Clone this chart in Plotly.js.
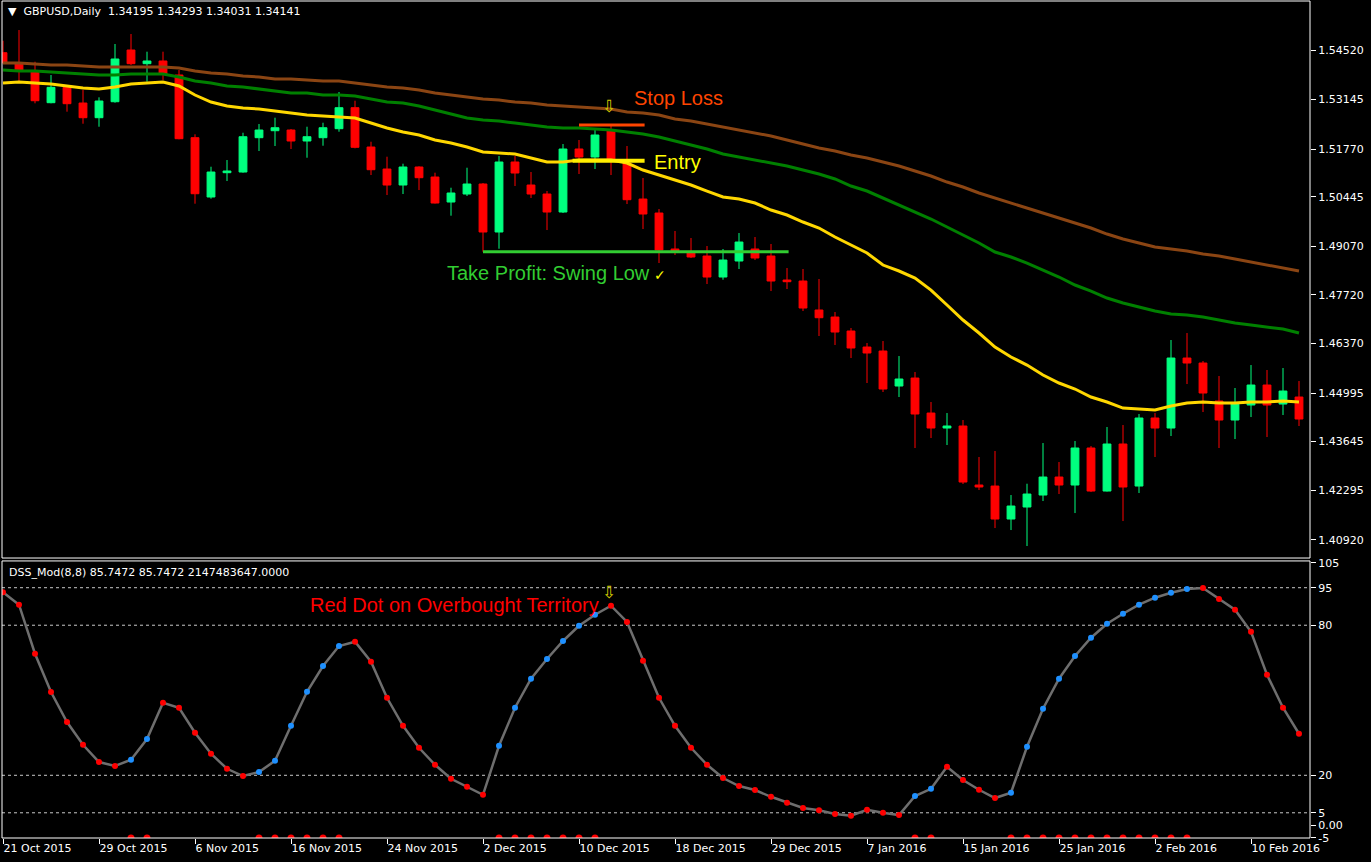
<!DOCTYPE html>
<html>
<head>
<meta charset="utf-8">
<script src="https://cdn.plot.ly/plotly-3.0.1.min.js"></script>
<style>
html,body{margin:0;padding:0;background:#000;}
#chart{width:1371px;height:862px;}
</style>
</head>
<body>
<div id="chart"></div>
<script>
// ---------- DATA ----------
const dates = [
 "2015-10-21","2015-10-22","2015-10-23","2015-10-26","2015-10-27","2015-10-28","2015-10-29","2015-10-30",
 "2015-11-02","2015-11-03","2015-11-04","2015-11-05","2015-11-06","2015-11-09","2015-11-10","2015-11-11",
 "2015-11-12","2015-11-13","2015-11-16","2015-11-17","2015-11-18","2015-11-19","2015-11-20","2015-11-23",
 "2015-11-24","2015-11-25","2015-11-26","2015-11-27","2015-11-30","2015-12-01","2015-12-02","2015-12-03",
 "2015-12-04","2015-12-07","2015-12-08","2015-12-09","2015-12-10","2015-12-11","2015-12-14","2015-12-15",
 "2015-12-16","2015-12-17","2015-12-18","2015-12-21","2015-12-22","2015-12-23","2015-12-24","2015-12-28",
 "2015-12-29","2015-12-30","2015-12-31","2016-01-04","2016-01-05","2016-01-06","2016-01-07","2016-01-08",
 "2016-01-11","2016-01-12","2016-01-13","2016-01-14","2016-01-15","2016-01-18","2016-01-19","2016-01-20",
 "2016-01-21","2016-01-22","2016-01-25","2016-01-26","2016-01-27","2016-01-28","2016-01-29","2016-02-01",
 "2016-02-02","2016-02-03","2016-02-04","2016-02-05","2016-02-08","2016-02-09","2016-02-10","2016-02-11",
 "2016-02-12","2016-02-15"];

const openP = [1.54445,1.54167,1.53917,1.53057,1.53484,1.53048,1.52640,1.53084,1.54520,1.54140,
 1.54215,1.53826,1.52085,1.50438,1.51113,1.51132,1.52085,1.52279,1.52298,1.51993,
 1.52085,1.52335,1.52918,1.51826,1.51215,1.50771,1.51271,1.50993,1.50299,1.50521,
 1.50799,1.49466,1.51410,1.50771,1.50521,1.50021,1.51771,1.51549,1.52298,1.51382,
 1.50382,1.49993,1.48994,1.48891,1.48799,1.48216,1.48661,1.48994,1.48799,1.48133,
 1.48105,1.47300,1.47105,1.46717,1.46272,1.46161,1.45189,1.45411,1.44439,1.44023,
 1.44079,1.42440,1.42412,1.41496,1.41829,1.42162,1.42662,1.42440,1.43468,1.42273,
 1.43579,1.42412,1.44301,1.44023,1.45967,1.45828,1.44773,1.44245,1.44662,1.45217,
 1.44689,1.44884];
const highP = [1.54778,1.55075,1.54195,1.53826,1.53548,1.53409,1.53206,1.54687,1.54964,1.54473,
 1.54473,1.53965,1.52179,1.51279,1.51465,1.52223,1.52465,1.52640,1.52326,1.52390,
 1.52501,1.53354,1.53112,1.51973,1.51557,1.51363,1.51290,1.51113,1.50696,1.51251,
 1.50827,1.51576,1.51576,1.51132,1.50604,1.51910,1.52021,1.52298,1.52437,1.51854,
 1.50965,1.50105,1.49494,1.49299,1.49077,1.48994,1.49438,1.49327,1.49133,1.48466,
 1.48438,1.48161,1.47244,1.46800,1.46383,1.46439,1.46022,1.45578,1.44745,1.44439,
 1.44245,1.43218,1.43384,1.42162,1.42476,1.43606,1.43079,1.43662,1.43523,1.44051,
 1.44106,1.44412,1.44439,1.46467,1.46661,1.45884,1.45467,1.45134,1.45772,1.45634,
 1.45689,1.45328];
const lowP = [1.54150,1.53659,1.53040,1.53040,1.52807,1.52473,1.52390,1.53057,1.54103,1.53640,
 1.53687,1.52040,1.50252,1.50391,1.50882,1.51113,1.51715,1.51854,1.51771,1.51529,
 1.51862,1.52251,1.51790,1.51049,1.50493,1.50521,1.50632,1.50257,1.49919,1.50466,
 1.48919,1.49002,1.50743,1.50410,1.49521,1.49993,1.51077,1.51215,1.51049,1.50243,
 1.49549,1.48605,1.48827,1.48744,1.48022,1.48141,1.48438,1.48688,1.47827,1.47883,
 1.47272,1.46578,1.46328,1.45967,1.45273,1.45023,1.44884,1.43468,1.43745,1.43551,
 1.42468,1.42301,1.41246,1.41190,1.40746,1.41996,1.42190,1.41662,1.42245,1.42259,
 1.41440,1.42218,1.43218,1.43801,1.45245,1.44467,1.43468,1.43717,1.44328,1.43773,
 1.44384,1.44079];
const closeP = [1.54167,1.53965,1.53112,1.53484,1.53029,1.52640,1.53104,1.54270,1.54140,1.54215,
 1.53854,1.52057,1.50529,1.51132,1.51160,1.52112,1.52298,1.52362,1.51993,1.52112,
 1.52362,1.52918,1.51818,1.51196,1.50771,1.51271,1.50974,1.50271,1.50549,1.50799,
 1.49466,1.51410,1.51104,1.50521,1.50021,1.51771,1.51549,1.52160,1.51493,1.50363,
 1.49966,1.48966,1.48947,1.48772,1.48216,1.48688,1.49188,1.48744,1.48105,1.48086,
 1.47355,1.47086,1.46689,1.46245,1.46106,1.45106,1.45384,1.44412,1.44023,1.44079,
 1.42523,1.42385,1.41496,1.41857,1.42190,1.42662,1.42440,1.43468,1.42273,1.43579,
 1.42385,1.44301,1.44023,1.45967,1.45828,1.44995,1.44245,1.44689,1.45217,1.44662,
 1.45050,1.44273];

// moving averages (fast = yellow, mid = green, slow = brown)
const maFast = [1.53604,1.53631,1.53604,1.53576,1.53520,1.53465,1.53437,1.53493,1.53576,1.53604,
 1.53631,1.53520,1.53270,1.53076,1.52965,1.52909,1.52882,1.52826,1.52770,1.52715,
 1.52687,1.52659,1.52632,1.52493,1.52354,1.52243,1.52160,1.52021,1.51937,1.51826,
 1.51687,1.51660,1.51632,1.51521,1.51410,1.51410,1.51465,1.51465,1.51465,1.51382,
 1.51188,1.51049,1.50910,1.50771,1.50604,1.50438,1.50382,1.50271,1.50077,1.49938,
 1.49744,1.49577,1.49327,1.49105,1.48883,1.48549,1.48383,1.48188,1.47855,1.47439,
 1.47022,1.46661,1.46272,1.45995,1.45772,1.45495,1.45273,1.45106,1.44884,1.44745,
 1.44578,1.44551,1.44523,1.44634,1.44717,1.44745,1.44717,1.44717,1.44745,1.44745,
 1.44773,1.44745];
const maMid = [1.53965,1.53937,1.53937,1.53909,1.53881,1.53854,1.53826,1.53826,1.53854,1.53854,
 1.53854,1.53770,1.53659,1.53604,1.53520,1.53493,1.53437,1.53381,1.53326,1.53326,
 1.53270,1.53270,1.53243,1.53159,1.53076,1.53048,1.52965,1.52854,1.52743,1.52632,
 1.52576,1.52548,1.52493,1.52437,1.52382,1.52354,1.52354,1.52326,1.52298,1.52243,
 1.52187,1.52104,1.51993,1.51882,1.51771,1.51632,1.51549,1.51465,1.51382,1.51299,
 1.51188,1.51077,1.50938,1.50743,1.50604,1.50410,1.50216,1.50021,1.49827,1.49605,
 1.49383,1.49160,1.48910,1.48772,1.48605,1.48411,1.48216,1.47994,1.47827,1.47633,
 1.47494,1.47383,1.47272,1.47189,1.47161,1.47105,1.47022,1.46939,1.46883,1.46828,
 1.46772,1.46661];
const maSlow = [1.54159,1.54159,1.54131,1.54103,1.54103,1.54076,1.54048,1.54048,1.54048,1.54048,
 1.54048,1.54020,1.53937,1.53881,1.53854,1.53798,1.53770,1.53715,1.53715,1.53687,
 1.53659,1.53659,1.53604,1.53548,1.53493,1.53465,1.53409,1.53326,1.53270,1.53215,
 1.53159,1.53131,1.53076,1.53048,1.52993,1.52965,1.52937,1.52909,1.52882,1.52798,
 1.52770,1.52715,1.52604,1.52548,1.52465,1.52382,1.52298,1.52215,1.52132,1.52021,
 1.51910,1.51799,1.51715,1.51604,1.51521,1.51410,1.51299,1.51160,1.51021,1.50854,
 1.50716,1.50549,1.50410,1.50271,1.50132,1.49993,1.49855,1.49716,1.49577,1.49410,
 1.49271,1.49160,1.49049,1.48994,1.48938,1.48855,1.48799,1.48716,1.48633,1.48549,
 1.48466,1.48383];

// DSS oscillator values and dot colour (1 = rising / blue, 0 = red)
const dss = [93.2,88.2,68.6,53.3,41.3,32.2,25.3,23.7,26.2,34.5,
 49.0,47.0,37.0,28.6,22.6,19.7,21.3,25.8,39.8,53.4,
 63.7,71.7,73.4,65.4,51.0,39.8,31.0,24.2,18.6,15.4,
 12.2,31.8,47.0,58.6,66.5,73.7,79.8,84.2,87.8,81.3,
 65.8,51.0,39.8,31.0,24.2,18.9,15.7,14.1,11.4,9.0,
 6.9,6.0,4.5,3.8,6.2,5.0,4.1,11.7,14.6,23.4,
 18.1,14.2,10.9,13.0,31.4,46.6,58.6,67.7,75.0,80.6,
 84.6,88.2,91.0,93.0,94.5,94.9,90.5,86.2,77.4,60.2,
 47.0,36.6];
const dssRising = [0,0,0,0,0,0,0,0,1,1,
 0,0,0,0,0,0,1,1,1,1,
 1,1,0,0,0,0,0,0,0,0,
 0,1,1,1,1,1,1,1,0,0,
 0,0,0,0,0,0,0,0,0,0,
 0,0,0,0,0,0,0,1,1,0,
 0,0,0,1,1,1,1,1,1,1,
 1,1,1,1,1,0,0,0,0,0,
 0,0];

const priceTicks = [1.54520,1.53145,1.51770,1.50445,1.49070,1.47720,1.46370,1.44995,1.43645,1.42295,1.40920];
const dssTicks = [105,95,80,20,5,0,-5];
const dssTickText = ["105","95","80","20","5","0.00","-5"];
const dssLevels = [95,80,20,5];
const dateTickIdx = [0,6,12,18,24,30,36,42,48,54,60,66,72,78];
const dateTickText = ["21 Oct 2015","29 Oct 2015","6 Nov 2015","16 Nov 2015","24 Nov 2015","2 Dec 2015",
 "10 Dec 2015","18 Dec 2015","29 Dec 2015","7 Jan 2016","15 Jan 2016","25 Jan 2016","2 Feb 2016","10 Feb 2016"];

// trade levels
const stopLoss = 1.52437, entryPrice = 1.51446, takeProfit = 1.48919;
const slBars = [36, 40.1], entryBars = [35.6, 40.1], tpBars = [30, 49.1];

// ---------- CHART ----------
const idx = dates.map((d, i) => i);
const BG = '#000000';
const GREEN_C = '#00FF7F', RED_C = '#FF0000';

const traces = [];
traces.push({
  type: 'candlestick', x: idx, open: openP, high: highP, low: lowP, close: closeP,
  xaxis: 'x', yaxis: 'y', whiskerwidth: 0,
  increasing: {line: {color: GREEN_C, width: 1}, fillcolor: GREEN_C},
  decreasing: {line: {color: RED_C, width: 1}, fillcolor: RED_C},
  hoverinfo: 'skip'
});
traces.push({type: 'scatter', mode: 'lines', x: idx, y: maSlow, line: {color: '#8B4513', width: 3}, xaxis: 'x', yaxis: 'y', hoverinfo: 'skip'});
traces.push({type: 'scatter', mode: 'lines', x: idx, y: maMid, line: {color: '#008000', width: 3}, xaxis: 'x', yaxis: 'y', hoverinfo: 'skip'});
traces.push({type: 'scatter', mode: 'lines', x: idx, y: maFast, line: {color: '#FFD700', width: 3}, xaxis: 'x', yaxis: 'y', hoverinfo: 'skip'});
// trade level lines
traces.push({type: 'scatter', mode: 'lines', x: slBars, y: [stopLoss, stopLoss], line: {color: '#FF4500', width: 3}, xaxis: 'x', yaxis: 'y', hoverinfo: 'skip'});
traces.push({type: 'scatter', mode: 'lines', x: entryBars, y: [entryPrice, entryPrice], line: {color: '#FFEE00', width: 4}, xaxis: 'x', yaxis: 'y', hoverinfo: 'skip'});
traces.push({type: 'scatter', mode: 'lines', x: tpBars, y: [takeProfit, takeProfit], line: {color: '#32CD32', width: 3}, xaxis: 'x', yaxis: 'y', hoverinfo: 'skip'});
// DSS
traces.push({
  type: 'scatter', mode: 'lines+markers', x: idx, y: dss, xaxis: 'x', yaxis: 'y2',
  line: {color: '#6E6E6E', width: 2.5},
  marker: {size: 6, color: dssRising.map(r => r ? '#1E90FF' : '#FF0000')},
  hoverinfo: 'skip'
});
const risingIdx = idx.filter(i => dssRising[i]);
traces.push({
  type: 'scatter', mode: 'markers', x: risingIdx, y: risingIdx.map(() => -5.08), xaxis: 'x', yaxis: 'y2',
  marker: {size: 7, color: '#FF0000'}, cliponaxis: true, hoverinfo: 'skip'
});

const tickFont = {family: 'DejaVu Sans', size: 11, color: '#FFFFFF'};
const shapes = [
  {type: 'rect', xref: 'x domain', yref: 'y domain', x0: 0, x1: 1, y0: 0, y1: 1, line: {color: '#FFFFFF', width: 1}},
  {type: 'rect', xref: 'x domain', yref: 'y2 domain', x0: 0, x1: 1, y0: 0, y1: 1, line: {color: '#FFFFFF', width: 1}}
];
dssLevels.forEach(v => shapes.push({
  type: 'line', xref: 'x domain', yref: 'y2', x0: 0, x1: 1, y0: v, y1: v,
  line: {color: '#C8C8C8', width: 1, dash: '3px,3px'}, layer: 'below'
}));

const annFont = (c) => ({family: 'Liberation Sans, Arial', size: 20, color: c});
const annotations = [
  {xref: 'paper', yref: 'paper', x: 0.003, y: 0.9869, xanchor: 'left', yanchor: 'middle', showarrow: false,
   text: '\u25BC  GBPUSD,Daily  1.34195 1.34293 1.34031 1.34141', font: {family: 'DejaVu Sans', size: 11, color: '#FFFFFF'}},
  {xref: 'paper', yref: 'paper', x: 0.0035, y: 0.3178, xanchor: 'left', yanchor: 'middle', showarrow: false,
   text: 'DSS_Mod(8,8) 85.7472 85.7472 2147483647.0000', font: {family: 'DejaVu Sans', size: 11, color: '#FFFFFF'}},
  {xref: 'x', yref: 'y', x: 39.31, y: 1.53187, xanchor: 'left', yanchor: 'middle', showarrow: false,
   text: 'Stop Loss', font: annFont('#FF4500')},
  {xref: 'x', yref: 'y', x: 37.9, y: 1.52965, xanchor: 'center', yanchor: 'middle', showarrow: false,
   text: '\u21E9', font: {family: 'DejaVu Sans', size: 17, color: '#D4C800'}},
  {xref: 'x', yref: 'y', x: 40.56, y: 1.51410, xanchor: 'left', yanchor: 'middle', showarrow: false,
   text: 'Entry', font: annFont('#FFFF00')},
  {xref: 'x', yref: 'y', x: 27.63, y: 1.48327, xanchor: 'left', yanchor: 'middle', showarrow: false,
   text: 'Take Profit: Swing Low', font: annFont('#32CD32')},
  {xref: 'x', yref: 'y', x: 41.05, y: 1.48272, xanchor: 'center', yanchor: 'middle', showarrow: false,
   text: '\u2713', font: {family: 'DejaVu Sans', size: 14, color: '#FFFF00'}},
  {xref: 'x', yref: 'y2', x: 19.06, y: 88.1, xanchor: 'left', yanchor: 'middle', showarrow: false,
   text: 'Red Dot on Overbought Territory', font: annFont('#FF0000')},
  {xref: 'x', yref: 'y2', x: 37.9, y: 93.3, xanchor: 'center', yanchor: 'middle', showarrow: false,
   text: '\u21E9', font: {family: 'DejaVu Sans', size: 17, color: '#D4C800'}}
];

const layout = {
  width: 1371, height: 862,
  paper_bgcolor: BG, plot_bgcolor: BG,
  margin: {l: 2, r: 61, t: 1, b: 24},
  showlegend: false,
  font: tickFont,
  xaxis: {
    domain: [0, 1], anchor: 'y2', range: [-0.0625, 81.6875],
    tickmode: 'array', tickvals: dateTickIdx, ticktext: dateTickText,
    ticks: 'outside', ticklen: 5, tickwidth: 1, tickcolor: '#FFFFFF',
    ticklabelposition: 'outside right',
    showgrid: false, zeroline: false, showline: false,
    rangeslider: {visible: false}, tickfont: tickFont, fixedrange: true
  },
  yaxis: {
    domain: [0.3345, 1], anchor: 'x', side: 'right', range: [1.40413, 1.55881],
    tickmode: 'array', tickvals: priceTicks, ticktext: priceTicks.map(v => v.toFixed(5)),
    ticks: 'outside', ticklen: 5, tickwidth: 1, tickcolor: '#FFFFFF',
    showgrid: false, zeroline: false, showline: false, tickfont: tickFont, fixedrange: true
  },
  yaxis2: {
    domain: [0, 0.331], anchor: 'x', side: 'right', range: [-5.08, 105.7],
    tickmode: 'array', tickvals: dssTicks, ticktext: dssTickText,
    ticks: 'outside', ticklen: 5, tickwidth: 1, tickcolor: '#FFFFFF',
    showgrid: false, zeroline: false, showline: false, tickfont: tickFont, fixedrange: true
  },
  shapes: shapes,
  annotations: annotations
};

Plotly.newPlot('chart', traces, layout, {staticPlot: true, displayModeBar: false});
</script>
</body>
</html>
